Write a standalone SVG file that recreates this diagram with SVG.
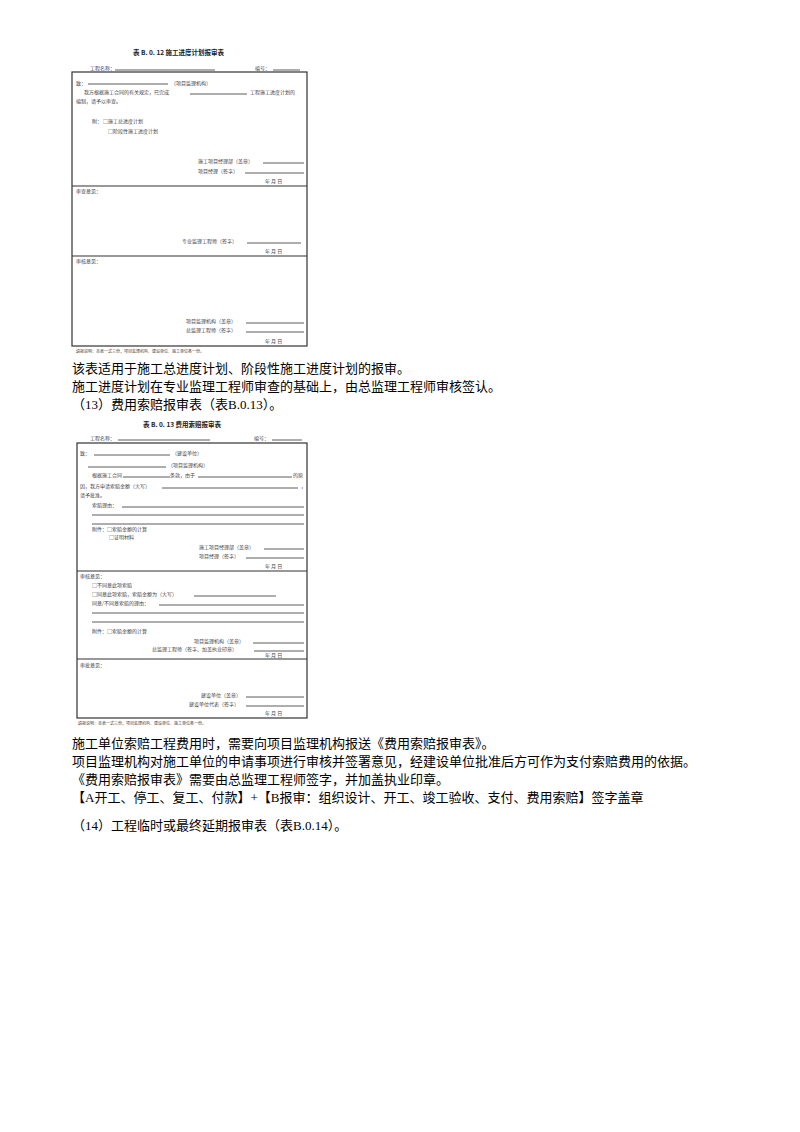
<svg xmlns="http://www.w3.org/2000/svg" width="800" height="1132" viewBox="0 0 800 1132">
<style>
.f{font-family:"Noto Sans CJK SC","Liberation Sans",sans-serif;fill:#444;font-size:5px}
.t{font-family:"Noto Sans CJK SC",sans-serif;fill:#222;font-size:6.5px;font-weight:bold}
.b{font-family:"Liberation Serif","Noto Sans CJK SC",serif;fill:#000;font-size:13px}
.l{stroke:#333;stroke-width:0.8;fill:none}
.box{stroke:#333;stroke-width:1.2;fill:none}
</style>
<rect width="800" height="1132" fill="#fff"/>
<g id="form1">
<text class="t" x="133" y="55">表 B. 0. 12   施工进度计划报审表</text>
<text class="f" x="90" y="70">工程名称：</text><line class="l" x1="115" y1="70" x2="215" y2="70"/>
<text class="f" x="255" y="70">编号：</text><line class="l" x1="273" y1="70" x2="300" y2="70"/>
<rect class="box" x="72" y="72" width="235" height="274"/>
<line class="box" x1="72" y1="186" x2="307" y2="186"/>
<line class="box" x1="72" y1="256" x2="307" y2="256"/>
<text class="f" x="76" y="85">致：</text><line class="l" x1="88" y1="84" x2="168" y2="84"/><text class="f" x="171" y="85">（项目监理机构）</text>
<text class="f" x="84" y="94">我方根据施工合同的有关规定，已完成</text><line class="l" x1="190" y1="94" x2="247" y2="94"/><text class="f" x="250" y="94">工程施工进度计划的</text>
<text class="f" x="76" y="103">编制，请予以审查。</text>
<text class="f" x="92" y="123">附：  □施工总进度计划</text>
<text class="f" x="108" y="133">□阶段性施工进度计划</text>
<text class="f" x="198" y="163">施工项目经理部（盖章）</text><line class="l" x1="263" y1="163" x2="304" y2="163"/>
<text class="f" x="198" y="173">项目经理（签字）</text><line class="l" x1="245" y1="173" x2="304" y2="173"/>
<text class="f" x="265" y="183">年    月    日</text>
<text class="f" x="76" y="193">审查意见：</text>
<text class="f" x="182" y="243">专业监理工程师（签字）</text><line class="l" x1="247" y1="243" x2="301" y2="243"/>
<text class="f" x="265" y="253">年    月    日</text>
<text class="f" x="76" y="263">审核意见：</text>
<text class="f" x="186" y="323">项目监理机构（盖章）</text><line class="l" x1="246" y1="323" x2="304" y2="323"/>
<text class="f" x="186" y="332">总监理工程师（签字）</text><line class="l" x1="246" y1="332" x2="304" y2="332"/>
<text class="f" x="265" y="343">年    月    日</text>
<text class="f" x="76" y="353" style="font-size:4px">填报说明：本表一式三份，项目监理机构、建设单位、施工单位各一份。</text>
</g>
<g id="text1">
<text class="b" x="72" y="373">该表适用于施工总进度计划、阶段性施工进度计划的报审。</text>
<text class="b" x="72" y="391">施工进度计划在专业监理工程师审查的基础上，由总监理工程师审核签认。</text>
<text class="b" x="72" y="409">（13）费用索赔报审表（表B.0.13）。</text>
</g>
<g id="form2">
<text class="t" x="143" y="427">表 B. 0. 13   费用索赔报审表</text>
<text class="f" x="90" y="440">工程名称：</text><line class="l" x1="118" y1="440" x2="210" y2="440"/>
<text class="f" x="254" y="440">编号：</text><line class="l" x1="272" y1="440" x2="302" y2="440"/>
<rect class="box" x="77" y="443" width="230" height="275"/>
<line class="box" x1="77" y1="571" x2="307" y2="571"/>
<line class="box" x1="77" y1="659" x2="307" y2="659"/>
<text class="f" x="80" y="455">致：</text><line class="l" x1="94" y1="455" x2="170" y2="455"/><text class="f" x="172" y="455">（建设单位）</text>
<line class="l" x1="88" y1="467" x2="166" y2="467"/><text class="f" x="168" y="467">（项目监理机构）</text>
<text class="f" x="92" y="477">根据施工合同</text><line class="l" x1="123" y1="477" x2="170" y2="477"/><text class="f" x="170" y="477">条款，由于</text><line class="l" x1="198" y1="477" x2="292" y2="477"/><text class="f" x="293" y="477">的原</text>
<text class="f" x="80" y="488">因，我方申请索赔金额（大写）</text><line class="l" x1="162" y1="488" x2="298" y2="488"/><text class="f" x="301" y="488">，</text>
<text class="f" x="80" y="497">请予批准。</text>
<text class="f" x="92" y="507">索赔理由：</text><line class="l" x1="122" y1="507" x2="304" y2="507"/>
<line class="l" x1="92" y1="515" x2="304" y2="515"/>
<line class="l" x1="92" y1="524" x2="304" y2="524"/>
<text class="f" x="92" y="531">附件：□索赔金额的计算</text>
<text class="f" x="109" y="539">□证明材料</text>
<text class="f" x="199" y="549">施工项目经理部（盖章）</text><line class="l" x1="264" y1="549" x2="304" y2="549"/>
<text class="f" x="199" y="558">项目经理（签字）</text><line class="l" x1="246" y1="558" x2="304" y2="558"/>
<text class="f" x="265" y="568">年    月    日</text>
<text class="f" x="80" y="578">审核意见：</text>
<text class="f" x="92" y="587">□不同意此项索赔</text>
<text class="f" x="92" y="596">□同意此项索赔，索赔金额为（大写）</text><line class="l" x1="194" y1="596" x2="276" y2="596"/>
<text class="f" x="92" y="605">同意/不同意索赔的理由：</text><line class="l" x1="159" y1="605" x2="304" y2="605"/>
<line class="l" x1="92" y1="613" x2="304" y2="613"/>
<line class="l" x1="92" y1="622" x2="304" y2="622"/>
<text class="f" x="92" y="633">附件：□索赔金额的计算</text>
<text class="f" x="194" y="643">项目监理机构（盖章）</text><line class="l" x1="253" y1="643" x2="304" y2="643"/>
<text class="f" x="152" y="651">总监理工程师（签字、加盖执业印章）</text><line class="l" x1="254" y1="651" x2="304" y2="651"/>
<text class="f" x="265" y="657">年    月    日</text>
<text class="f" x="80" y="667">审批意见：</text>
<text class="f" x="201" y="697">建设单位（盖章）</text><line class="l" x1="246" y1="697" x2="304" y2="697"/>
<text class="f" x="189" y="706">建设单位代表（签字）</text><line class="l" x1="246" y1="706" x2="304" y2="706"/>
<text class="f" x="265" y="715">年    月    日</text>
<text class="f" x="78" y="725" style="font-size:4px">填报说明：本表一式三份，项目监理机构、建设单位、施工单位各一份。</text>
</g>
<g id="text2">
<text class="b" x="72" y="748">施工单位索赔工程费用时，需要向项目监理机构报送《费用索赔报审表》。</text>
<text class="b" x="72" y="766">项目监理机构对施工单位的申请事项进行审核并签署意见，经建设单位批准后方可作为支付索赔费用的依据。</text>
<text class="b" x="72" y="784">《费用索赔报审表》需要由总监理工程师签字，并加盖执业印章。</text>
<text class="b" x="72" y="802">【A开工、停工、复工、付款】+【B报审：组织设计、开工、竣工验收、支付、费用索赔】签字盖章</text>
<text class="b" x="72" y="830">（14）工程临时或最终延期报审表（表B.0.14）。</text>
</g>
</svg>
